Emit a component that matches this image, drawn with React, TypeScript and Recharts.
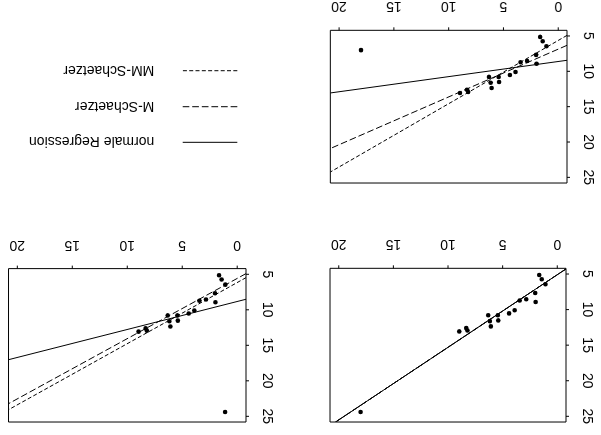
import { ReferenceArea, ReferenceLine, Scatter, ScatterChart, XAxis, YAxis } from "recharts";

// shared observations (same 17 points in every panel)
const baseX = [1.65, 1.42, 1.08, 2.02, 1.98, 2.84, 3.44, 3.9, 4.41, 5.44, 5.4, 6.32, 6.17, 6.08, 8.33, 8.22, 8.97];
const baseY = [5.13, 5.74, 6.45, 7.67, 8.94, 8.54, 8.72, 10.1, 10.53, 10.79, 11.52, 10.79, 11.62, 12.36, 12.6, 12.93, 13.07];

// the one extra point that differs per panel
const outlierA = { x: 18.0, y: 24.4 };
const outlierB = { x: 1.1, y: 24.4 };
const outlierC = { x: 18.0, y: 7.0 };

// fitted lines per panel: [normale Regression, M-Schaetzer, MM-Schaetzer]
const interceptsA = [5.1, 5.1, 5.1];
const slopesA = [1.02, 1.02, 1.02];
const interceptsB = [8.83, 5.58, 6.16];
const slopesB = [0.394, 0.848, 0.861];
const interceptsC = [8.61, 6.86, 5.63];
const slopesC = [0.214, 0.676, 0.895];

const lineLabels = ["normale Regression", "M-Schaetzer", "MM-Schaetzer"];
const xTicks = [0, 5, 10, 15, 20];
const yTicks = [5, 10, 15, 20, 25];
const xLim = [0, 20];
const yLim = [5, 25];

const FONT = "'Liberation Sans', Arial, Helvetica, sans-serif";
const DASHES = [undefined, "6.7 2.9", "4 2.3"];

// R style 4% padding
const pad = (lim: number[]) => {
  const d = (lim[1] - lim[0]) * 0.04;
  return [lim[0] - d, lim[1] + d];
};
const X_DOMAIN = pad(xLim);
const Y_DOMAIN = pad(yLim);

function makePoints(extra: { x: number; y: number }) {
  const pts = baseX.map((x, i) => ({ x, y: baseY[i] }));
  pts.push(extra);
  return pts;
}

type PanelProps = {
  left: number;
  top: number;
  w: number;
  h: number;
  points: { x: number; y: number }[];
  intercepts: number[];
  slopes: number[];
};

function Dot(props: any) {
  return <circle cx={props.cx} cy={props.cy} r={2.3} fill="#000" />;
}

function Panel({ left, top, w, h, points, intercepts, slopes }: PanelProps) {
  const G = { l: 36, r: 8, t: 8, b: 36 };
  const bottom = G.t + h;

  const xTick = (p: any) => (
    <text x={p.x} y={bottom + 23} dy="0.35em" textAnchor="middle" fontSize={14} fontFamily={FONT} fill="#000">
      {p.payload.value}
    </text>
  );
  const yTick = (p: any) => {
    const tx = G.l - 21.5;
    return (
      <text
        x={tx}
        y={p.y}
        dy="0.35em"
        textAnchor="middle"
        fontSize={14}
        fontFamily={FONT}
        fill="#000"
        transform={`rotate(-90, ${tx}, ${p.y})`}
      >
        {p.payload.value}
      </text>
    );
  };

  return (
    <div style={{ position: "absolute", left: left - G.l, top: top - G.t }}>
      <ScatterChart width={w + G.l + G.r} height={h + G.t + G.b} margin={{ top: G.t, right: G.r, left: 0, bottom: 0 }}>
        <XAxis
          type="number"
          dataKey="x"
          domain={X_DOMAIN}
          ticks={xTicks}
          interval={0}
          allowDataOverflow
          height={G.b}
          axisLine={false}
          tickLine={{ stroke: "#000" }}
          tickSize={3}
          tick={xTick}
        />
        <YAxis
          type="number"
          dataKey="y"
          domain={Y_DOMAIN}
          ticks={yTicks}
          interval={0}
          allowDataOverflow
          width={G.l}
          axisLine={false}
          tickLine={{ stroke: "#000" }}
          tickSize={3}
          tick={yTick}
        />
        <ReferenceArea
          x1={X_DOMAIN[0]}
          x2={X_DOMAIN[1]}
          y1={Y_DOMAIN[0]}
          y2={Y_DOMAIN[1]}
          fill="none"
          fillOpacity={0}
          stroke="#000"
          strokeOpacity={1}
          strokeWidth={1}
          ifOverflow="visible"
        />
        <Scatter data={points} shape={Dot} isAnimationActive={false} />
        {intercepts.map((a, i) => (
          <ReferenceLine
            key={i}
            segment={[
              { x: X_DOMAIN[0], y: a + slopes[i] * X_DOMAIN[0] },
              { x: X_DOMAIN[1], y: a + slopes[i] * X_DOMAIN[1] },
            ]}
            stroke="#000"
            strokeWidth={1}
            strokeDasharray={DASHES[i]}
            ifOverflow="hidden"
          />
        ))}
      </ScatterChart>
    </div>
  );
}

function LegendBox() {
  const rows = [74.7, 110.3, 146.3];
  return (
    <svg style={{ position: "absolute", left: 301, top: 218 }} width={300} height={217}>
      {lineLabels.map((label, i) => (
        <g key={label}>
          <line x1={62.7} x2={117.3} y1={rows[i]} y2={rows[i]} stroke="#000" strokeWidth={1} strokeDasharray={DASHES[i]} />
          <text x={145.7} y={rows[i]} dy="0.35em" fontSize={14} fontFamily={FONT} fill="#000">
            {label}
          </text>
        </g>
      ))}
    </svg>
  );
}

export default function App() {
  return (
    <div
      style={{
        position: "fixed",
        left: 0,
        top: 0,
        width: 601,
        height: 435,
        background: "#fff",
        transform: "rotate(180deg)",
      }}
    >
      <Panel left={35} top={13} w={236} h={153.7} points={makePoints(outlierA)} intercepts={interceptsA} slopes={slopesA} />
      <Panel left={354.5} top={13.3} w={237.5} h={153.4} points={makePoints(outlierB)} intercepts={interceptsB} slopes={slopesB} />
      <Panel left={34.3} top={252.3} w={236.7} h={152.7} points={makePoints(outlierC)} intercepts={interceptsC} slopes={slopesC} />
      <LegendBox />
    </div>
  );
}
